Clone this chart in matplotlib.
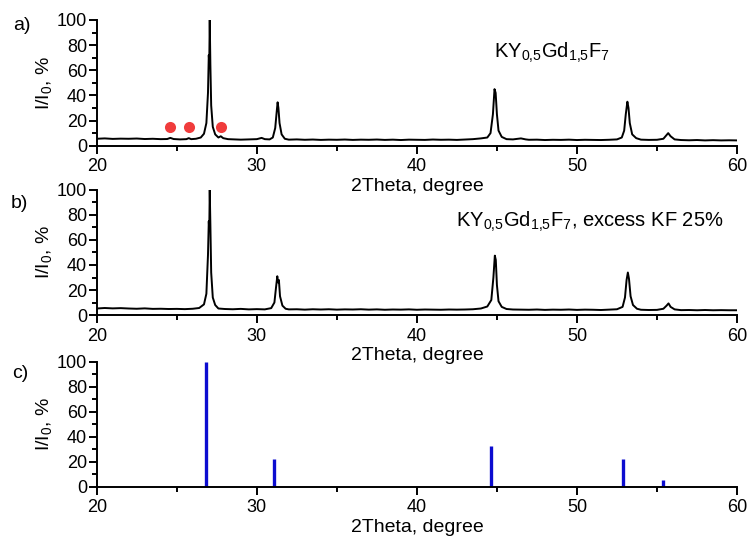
import matplotlib
matplotlib.use("Agg")
import matplotlib.pyplot as plt
from matplotlib.ticker import MultipleLocator

plt.rcParams['font.family'] = ['Liberation Sans', 'DejaVu Sans']
plt.rcParams['mathtext.fontset'] = 'custom'
plt.rcParams['mathtext.rm'] = 'Liberation Sans'
plt.rcParams['mathtext.it'] = 'Liberation Sans:italic'

# pattern a) KY0,5Gd1,5F7
a_x = [20.0, 20.5, 21.0, 21.5, 22.0, 22.5, 23.0, 23.5, 24.0, 24.4, 24.6, 24.8,
       25.2, 25.6, 25.75, 25.9, 26.2, 26.5, 26.7, 26.85, 26.95, 27.0, 27.03,
       27.06, 27.1, 27.15, 27.25, 27.4, 27.6, 27.75, 27.9, 28.2, 28.6, 29.0,
       29.5, 30.0, 30.3, 30.5, 30.8, 31.0, 31.15, 31.25, 31.3, 31.35, 31.42,
       31.55, 31.75, 32.0, 32.5, 33.0, 33.5, 34.0, 34.5, 35.0, 35.5, 36.0, 36.5,
       37.0, 37.5, 38.0, 38.5, 39.0, 39.5, 40.0, 40.5, 41.0, 41.5, 42.0, 42.5,
       43.0, 43.5, 44.0, 44.4, 44.6, 44.75, 44.85, 44.92, 45.0, 45.1, 45.3,
       45.6, 46.0, 46.5, 46.8, 47.0, 47.5, 48.0, 48.5, 49.0, 49.5, 50.0, 50.5,
       51.0, 51.5, 52.0, 52.5, 52.8, 52.95, 53.05, 53.15, 53.22, 53.3, 53.45,
       53.7, 54.0, 54.5, 55.0, 55.4, 55.6, 55.7, 55.85, 56.1, 56.5, 57.0, 57.5,
       58.0, 58.5, 59.0, 59.5, 60.0]
a_y = [5.5, 5.8, 5.4, 5.6, 5.5, 5.7, 5.3, 5.5, 5.2, 5.3, 6.2, 5.3,
       5.0, 5.2, 6.0, 5.2, 5.5, 6.5, 9.5, 18, 42, 72, 66,
       100, 64, 32, 15, 9, 6.5, 7.5, 6.0, 5.2, 5.0, 4.8,
       5.0, 5.2, 6.2, 5.2, 5.0, 6.5, 14, 28, 34.5, 30, 18,
       9, 5.5, 4.8, 5.0, 4.7, 4.9, 4.6, 4.8, 4.7, 4.9, 4.6, 4.8,
       4.7, 4.9, 4.6, 4.8, 4.5, 4.8, 4.7, 4.6, 4.9, 4.7, 4.8, 4.6,
       4.9, 5.2, 5.8, 6.5, 10, 25, 45, 42, 25, 12, 7,
       5.2, 5.0, 5.8, 5.0, 4.7, 4.8, 4.5, 4.7, 4.6, 4.8, 4.5, 4.7,
       4.6, 4.5, 4.7, 5.0, 6.5, 12, 25, 35, 30, 18, 9,
       6, 4.8, 4.6, 4.7, 5.5, 8.5, 10, 7.5, 5, 4.5, 4.3, 4.5,
       4.2, 4.4, 4.2, 4.3, 4.2]

# pattern b) KY0,5Gd1,5F7, excess KF 25%
b_x = [20.0, 20.5, 21.0, 21.5, 22.0, 22.5, 23.0, 23.5, 24.0, 24.5, 25.0,
       25.5, 26.0, 26.4, 26.7, 26.85, 26.95, 27.0, 27.03, 27.06, 27.1, 27.15,
       27.25, 27.4, 27.6, 28.0, 28.5, 29.0, 29.5, 30.0, 30.5, 30.9, 31.1,
       31.2, 31.28, 31.33, 31.38, 31.45, 31.6, 31.8, 32.0, 32.5, 33.0, 33.5,
       34.0, 34.5, 35.0, 35.5, 36.0, 36.5, 37.0, 37.5, 38.0, 38.5, 39.0, 39.5,
       40.0, 40.5, 41.0, 41.5, 42.0, 42.5, 43.0, 43.5, 44.0, 44.4, 44.65,
       44.78, 44.87, 44.93, 45.0, 45.1, 45.3, 45.6, 46.0, 46.5, 47.0, 47.5,
       48.0, 48.5, 49.0, 49.5, 50.0, 50.5, 51.0, 51.5, 52.0, 52.5, 52.85,
       53.0, 53.1, 53.18, 53.25, 53.35, 53.5, 53.75, 54.0, 54.5, 55.0, 55.4,
       55.6, 55.72, 55.85, 56.1, 56.5, 57.0, 57.5, 58.0, 58.5, 59.0, 59.5, 60.0]
b_y = [5.2, 5.6, 5.3, 5.5, 5.2, 5.0, 5.3, 4.9, 5.0, 4.8, 4.9,
       4.7, 5.0, 5.6, 8.5, 17, 48, 75, 68, 100, 72, 34,
       14, 8, 5.2, 4.8, 4.6, 4.9, 4.5, 4.7, 4.5, 5.5, 10,
       22, 31, 26, 28, 15, 7.5, 5, 4.5, 4.6, 4.3, 4.6,
       4.4, 4.6, 4.3, 4.5, 4.4, 4.6, 4.3, 4.5, 4.2, 4.4, 4.3, 4.5,
       4.2, 4.4, 4.3, 4.2, 4.4, 4.3, 4.4, 4.6, 5.2, 6.8, 12,
       30, 47.5, 44, 24, 11, 6.5, 4.8, 4.4, 4.3, 4.2, 4.4,
       4.1, 4.3, 4.2, 4.4, 4.1, 4.3, 4.2, 4.0, 4.3, 4.6, 6.5,
       14, 28, 34, 29, 15, 8, 5, 4.2, 4.0, 4.1, 5.0,
       7.5, 9.3, 6.5, 4.5, 3.9, 4.0, 3.8, 4.0, 3.8, 3.9, 3.8, 3.8]

# c) reference stick pattern
c_x = [26.8, 31.07, 44.6, 52.85, 55.35]
c_y = [100, 22, 33, 22, 5.3]

# impurity markers in a)
dot_x = [24.6, 25.75, 27.75]
dot_y = [15, 15, 15]

fig = plt.figure(figsize=(7.51, 5.37), dpi=100)
lefts = 0.1288
width = 0.8526
bottoms = [0.7287, 0.4134, 0.0937]
heights = [0.2341, 0.2328, 0.2322]

axes = []
for b, h in zip(bottoms, heights):
    ax = fig.add_axes([lefts, b, width, h])
    ax.patch.set_alpha(0)
    ax.set_xlim(20, 60)
    ax.set_ylim(0, 100)
    ax.spines['top'].set_visible(False)
    ax.spines['right'].set_visible(False)
    ax.spines['left'].set_linewidth(1.4)
    ax.spines['bottom'].set_linewidth(1.4)
    ax.xaxis.set_major_locator(MultipleLocator(10))
    ax.xaxis.set_minor_locator(MultipleLocator(5))
    ax.yaxis.set_major_locator(MultipleLocator(20))
    ax.yaxis.set_minor_locator(MultipleLocator(10))
    ax.tick_params(which='major', direction='out', length=6, width=1.4,
                   labelsize=13, colors='black')
    ax.tick_params(which='minor', direction='out', length=3.5, width=1.4)
    ax.tick_params(axis='x', pad=3)
    ax.tick_params(axis='y', pad=1)
    ax.set_xlabel('2Theta, degree', fontsize=14, labelpad=2)
    ax.set_ylabel(r'I/I$_0$, %', fontsize=14, labelpad=2)
    axes.append(ax)

ax1, ax2, ax3 = axes

ax1.plot(a_x, a_y, color='black', lw=1.4)
ax1.plot(dot_x, dot_y, 'o', color='#f03c3c', markersize=8, markeredgewidth=0)
ax1.text(44.8, 70, r'KY$_{0{,}5}$Gd$_{1{,}5}$F$_7$', fontsize=14.5,
         ha='left', va='baseline')

ax2.plot(b_x, b_y, color='black', lw=1.4)
ax2.text(42.46, 71, r'KY$_{0{,}5}$Gd$_{1{,}5}$F$_7$, excess KF 25%', fontsize=14.5,
         ha='left', va='baseline')

ax3.vlines(c_x, 0, c_y, color='#0c0cd0', lw=2.4, zorder=1)

fig.text(13 / 751, 1 - 26 / 537, 'a)', fontsize=14, ha='left', va='center')
fig.text(11 / 751, 1 - 203 / 537, 'b)', fontsize=14, ha='left', va='center')
fig.text(12 / 751, 1 - 373 / 537, 'c)', fontsize=14, ha='left', va='center')

fig.savefig('out.png', dpi=100)
